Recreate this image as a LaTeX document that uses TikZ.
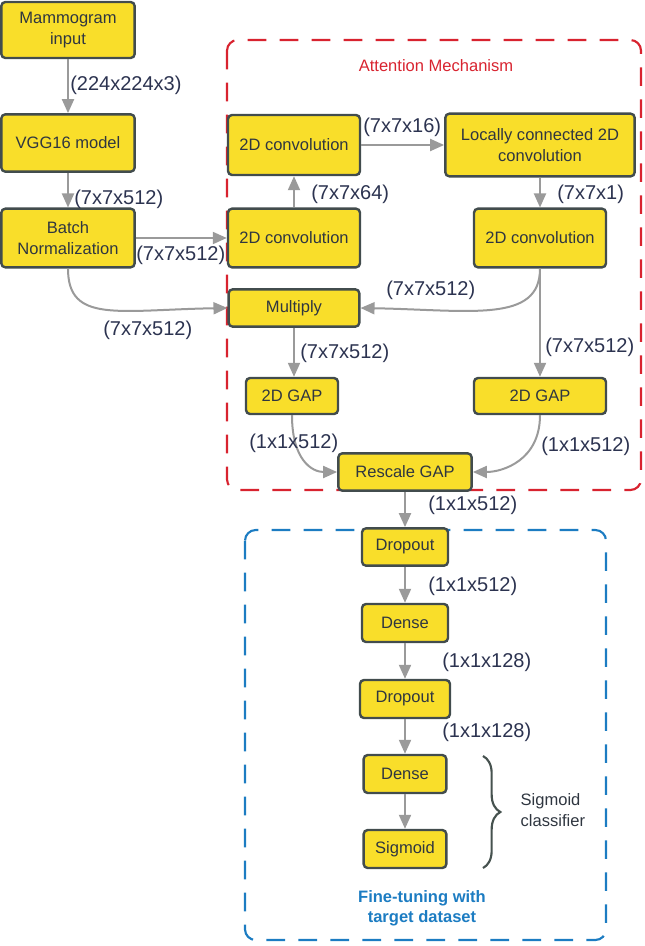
\documentclass[tikz,border=0pt]{standalone}
\usepackage{fontspec}
\setmainfont{Liberation Sans}
\usetikzlibrary{arrows.meta,decorations.pathreplacing}
\definecolor{yel}{HTML}{F9DE2A}
\definecolor{bord}{HTML}{424C4D}
\definecolor{txt}{HTML}{2F3640}
\definecolor{arr}{HTML}{9A9A9A}
\definecolor{lab}{HTML}{2C3350}
\definecolor{attred}{HTML}{D8232F}
\definecolor{ftblue}{HTML}{1C7CC2}
\definecolor{brc}{HTML}{46524F}
\begin{document}
\begin{tikzpicture}[x=0.75pt,y=-0.75pt,
 box/.style={draw=bord, line width=1.8pt, fill=yel, rounded corners=3pt, align=center, inner sep=0pt, text=txt, font=\fontsize{12.4}{15.3}\selectfont},
 lbl/.style={text=lab, font=\fontsize{15}{17}\selectfont, inner sep=0pt, anchor=west},
 flow/.style={draw=arr, line width=1.5pt, -{Triangle[length=10.5pt,width=9pt]}},
 group/.style={dash pattern=on 14pt off 10pt, line width=1.6pt, rounded corners=8pt}]
\useasboundingbox (0,0) rectangle (645,946);
% groups
\draw[group, draw=attred] (227,40) rectangle (641,490);
\node[text=attred, font=\fontsize{12.4}{15}\selectfont] (atttitle) at (436,66) {Attention Mechanism};
\draw[group, draw=ftblue] (245,530) rectangle (606,940);
\node[text=ftblue, font=\bfseries\fontsize{12.4}{15.3}\selectfont, align=center] (fttitle) at (422,908) {Fine-tuning with\\target dataset};
% nodes
\node[box, minimum width=100pt, minimum height=42pt] (in) at (68,30) {Mammogram\\input};
\node[box, minimum width=100pt, minimum height=43pt] (vgg) at (68,143) {VGG16 model};
\node[box, minimum width=100pt, minimum height=44pt] (bn) at (68,238) {Batch\\Normalization};
\node[box, minimum width=99pt, minimum height=44pt] (c1) at (294,238) {2D convolution};
\node[box, minimum width=99pt, minimum height=45pt] (c2) at (294,145) {2D convolution};
\node[box, minimum width=142pt, minimum height=47pt] (lc) at (540,145) {Locally connected 2D\\convolution};
\node[box, minimum width=99pt, minimum height=44pt] (c3) at (540,238) {2D convolution};
\node[box, minimum width=98pt, minimum height=28pt] (mul) at (294,308) {Multiply};
\node[box, minimum width=69pt, minimum height=27pt] (gapl) at (292,396) {2D GAP};
\node[box, minimum width=99pt, minimum height=27pt] (gapr) at (540,396) {2D GAP};
\node[box, minimum width=100pt, minimum height=28pt] (resc) at (405,472) {Rescale GAP};
\node[box, minimum width=64.5pt, minimum height=28pt] (do1) at (405,547) {Dropout};
\node[box, minimum width=64.5pt, minimum height=28.5pt] (de1) at (405,623) {Dense};
\node[box, minimum width=67.5pt, minimum height=28.5pt] (do2) at (405,699) {Dropout};
\node[box, minimum width=62pt, minimum height=28.5pt] (de2) at (405,774) {Dense};
\node[box, minimum width=62pt, minimum height=28.5pt] (sig) at (405,849) {Sigmoid};
% connectors
\draw[flow] (in) -- (vgg);
\draw[flow] (vgg) -- (bn);
\draw[flow] (bn) -- (c1);
\draw[flow] (c1) -- (c2);
\draw[flow] (c2) -- (lc);
\draw[flow] (lc) -- (c3);
\draw[flow] (bn.south) .. controls +(0,55) and +(-110,2) .. (mul.west);
\draw[flow] (c3.south) .. controls +(0,55) and +(110,2) .. (mul.east);
\draw[flow] (c3.south) -- (gapr.north);
\draw[flow] (mul.south) -- (mul.south |- gapl.north);
\draw[flow] (gapl.south) .. controls +(0,45) and +(-25,0) .. (resc.west);
\draw[flow] (gapr.south) .. controls +(0,45) and +(30,0) .. (resc.east);
\draw[flow] (resc) -- (do1);
\draw[flow] (do1) -- (de1);
\draw[flow] (de1) -- (do2);
\draw[flow] (do2) -- (de2);
\draw[flow] (de2) -- (sig);
% brace
\coordinate (bt) at (483,756);
\coordinate (bb) at (483,868);
\draw[draw=brc, line width=1.6pt, decorate, decoration={brace, amplitude=13pt}] (bt) -- (bb);
\node[text=txt, font=\fontsize{12.4}{15.3}\selectfont, align=left, anchor=west] (sc) at (516,810) {Sigmoid\\classifier};
% labels
\node[lbl] (l1) at (70,85) {(224x224x3)};
\node[lbl] (l2) at (74,199) {(7x7x512)};
\node[lbl] (l3) at (136,255) {(7x7x512)};
\node[lbl] (l4) at (103,330) {(7x7x512)};
\node[lbl] (l5) at (311,194) {(7x7x64)};
\node[lbl] (l6) at (363,127) {(7x7x16)};
\node[lbl] (l7) at (557,194) {(7x7x1)};
\node[lbl] (l8) at (386,290) {(7x7x512)};
\node[lbl] (l9) at (300,353) {(7x7x512)};
\node[lbl] (l10) at (545,347) {(7x7x512)};
\node[lbl] (l11) at (249,443) {(1x1x512)};
\node[lbl] (l12) at (541,446) {(1x1x512)};
\node[lbl] (l13) at (428,505) {(1x1x512)};
\node[lbl] (l14) at (428,586) {(1x1x512)};
\node[lbl] (l15) at (442,662) {(1x1x128)};
\node[lbl] (l16) at (442,732) {(1x1x128)};
\end{tikzpicture}
\end{document}
